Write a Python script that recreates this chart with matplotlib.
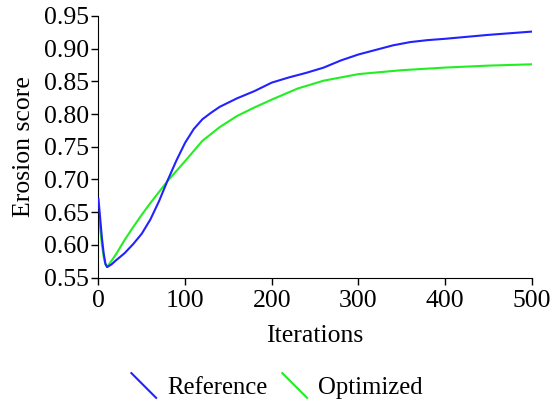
import matplotlib
matplotlib.use("Agg")
import matplotlib.pyplot as plt
from matplotlib.legend_handler import HandlerBase
from matplotlib.lines import Line2D

# Reference curve
ref_x = [0, 2, 4, 6, 8, 10, 15, 20, 30, 40, 50, 60, 70, 80, 90, 100, 110, 120, 130, 140,
         160, 180, 200, 220, 240, 260, 280, 300, 320, 340, 360, 380, 400, 450, 500]
ref_y = [0.670, 0.640, 0.610, 0.587, 0.571, 0.566, 0.570, 0.576, 0.587, 0.601, 0.617,
         0.639, 0.667, 0.699, 0.729, 0.756, 0.777, 0.792, 0.802, 0.811, 0.824, 0.835,
         0.848, 0.856, 0.863, 0.871, 0.882, 0.891, 0.898, 0.905, 0.910, 0.913, 0.915,
         0.921, 0.926]

# Optimized curve
opt_x = [0, 2, 4, 6, 8, 10, 20, 30, 40, 50, 60, 70, 80, 90, 100, 120, 140, 160, 180,
         200, 230, 260, 300, 350, 400, 450, 500]
opt_y = [0.652, 0.625, 0.600, 0.582, 0.570, 0.566, 0.585, 0.607, 0.627, 0.646, 0.664,
         0.681, 0.698, 0.713, 0.728, 0.759, 0.780, 0.797, 0.810, 0.822, 0.839, 0.851,
         0.861, 0.867, 0.871, 0.874, 0.876]

y_ticks = [0.55, 0.60, 0.65, 0.70, 0.75, 0.80, 0.85, 0.90, 0.95]
x_ticks = [0, 100, 200, 300, 400, 500]


class DiagHandler(HandlerBase):
    def create_artists(self, legend, orig_handle, xdescent, ydescent,
                       width, height, fontsize, trans):
        cy = height / 2 - ydescent
        x0 = -xdescent
        ln = Line2D([x0, x0 + width], [cy + width / 2, cy - width / 2],
                    color=orig_handle.get_color(), lw=orig_handle.get_linewidth())
        ln.set_transform(trans)
        return [ln]


plt.rcParams["font.family"] = ["Liberation Serif", "DejaVu Serif"]
plt.rcParams["font.size"] = 18.5

fig = plt.figure(figsize=(5.52, 4.05), dpi=100)
ax = fig.add_axes([0.1784, 0.3148, 0.7846, 0.6459])

l2, = ax.plot(opt_x, opt_y, color="#22ee22", lw=1.5, label="Optimized", zorder=2)
l1, = ax.plot(ref_x, ref_y, color="#2222ff", lw=1.5, label="Reference", zorder=3)

ax.set_xlim(0, 500)
ax.set_ylim(0.55, 0.95)
ax.set_xticks(x_ticks)
ax.set_yticks(y_ticks)
ax.set_yticklabels(["%.2f" % v for v in y_ticks])
ax.spines["top"].set_visible(False)
ax.spines["right"].set_visible(False)
ax.tick_params(direction="out", length=5, width=1, pad=2)
ax.tick_params(axis="x", pad=4)
ax.set_xlabel("Iterations", labelpad=9)
ax.set_ylabel("Erosion score", labelpad=6)

fig.legend([l1, l2], ["Reference", "Optimized"], loc="center",
           bbox_to_anchor=(0.502, 0.042), ncol=2, frameon=False, fontsize=17.8,
           handler_map={Line2D: DiagHandler()}, handlelength=1.0,
           handletextpad=0.45, columnspacing=0.6)

fig.savefig("out.png", dpi=100)
